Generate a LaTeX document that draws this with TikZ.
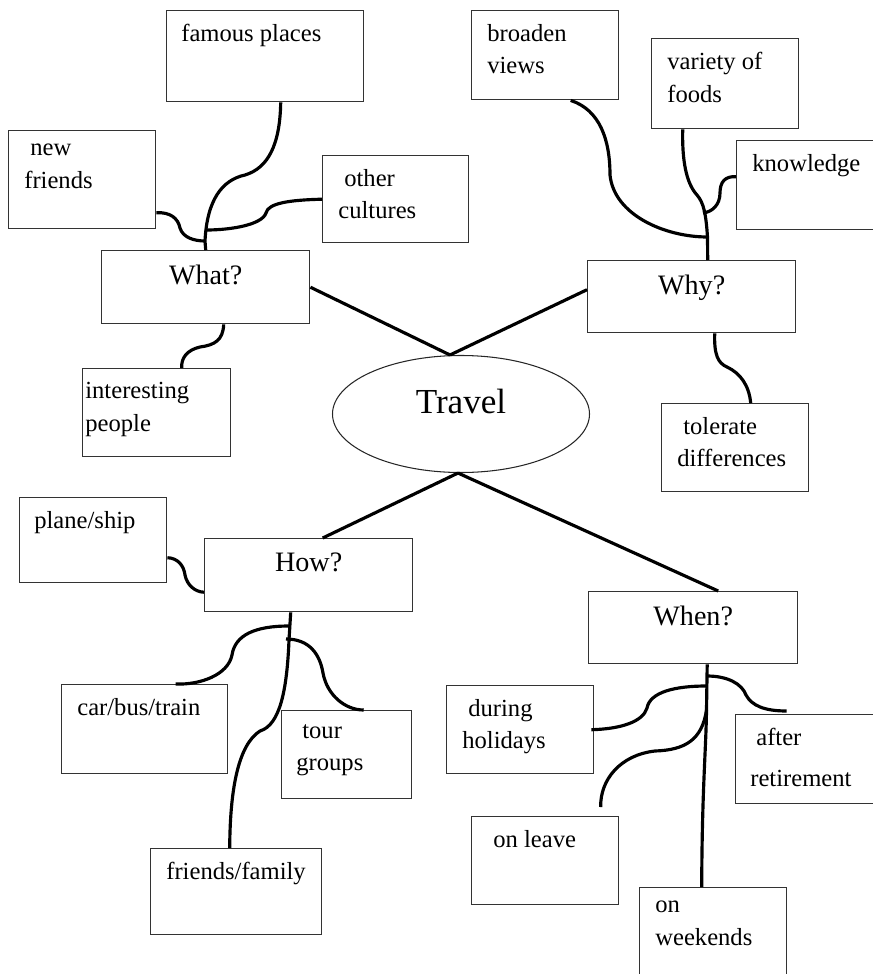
\documentclass[tikz,border=0pt]{standalone}
\usepackage{fontspec}
\setmainfont{Liberation Serif}
\usepackage{tikz}
\usetikzlibrary{shapes.geometric}

\begin{document}
\begin{tikzpicture}[
    leaf/.style={rectangle, draw=black!80, line width=0.8pt, anchor=north west, minimum width=2.94cm, minimum height=1.76cm, inner sep=0pt},
    leaftext/.style={anchor=north west, align=left, inner sep=0pt, xshift=0.32cm, yshift=-0.28cm, font=\fontsize{14}{18.5}\selectfont},
    ask/.style={rectangle, draw=black!80, line width=0.8pt, anchor=north west, minimum width=4.16cm, minimum height=1.46cm, inner sep=0pt},
    asktext/.style={anchor=north, inner sep=0pt, yshift=-0.3cm, font=\fontsize{16}{19}\selectfont},
    link/.style={line width=1.8pt, black},
    label distance=0pt
]
    \useasboundingbox (0,0) rectangle (17.46,-19.48);

    \node[ellipse, draw=black!85, line width=0.6pt, minimum width=5.14cm, minimum height=2.34cm, inner sep=0pt, text depth=14pt, font=\fontsize{20}{24}\selectfont] (travel) at (9.22,-8.28) {Travel};

    \node[ask, label={[asktext]north:What?}] (what) at (2.02,-5.00) {};
    \node[ask, minimum height=1.44cm, label={[asktext]north:Why?}] (why) at (11.74,-5.20) {};
    \node[ask, label={[asktext]north:How?}] (how) at (4.08,-10.76) {};
    \node[ask, minimum width=4.18cm, minimum height=1.44cm, label={[asktext]north:When?}] (when) at (11.76,-11.82) {};

    \node[leaf, minimum width=3.94cm, minimum height=1.82cm, label={[leaftext, xshift=-0.02cm]north west:famous places}] (famous) at (3.32,-0.20) {};
    \node[leaf, minimum height=1.96cm, label={[leaftext]north west:{\hspace*{0.12cm}new\\friends}}] (newfr) at (0.16,-2.60) {};
    \node[leaf, minimum width=2.92cm, minimum height=1.74cm, label={[leaftext]north west:{\hspace*{0.12cm}other\\cultures}}] (other) at (6.44,-3.10) {};
    \node[leaf, minimum width=2.96cm, label={[leaftext, xshift=-0.26cm]north west:{interesting\\people}}] (interest) at (1.64,-7.36) {};

    \node[leaf, minimum height=1.78cm, label={[leaftext]north west:{broaden\\views}}] (broaden) at (9.42,-0.20) {};
    \node[leaf, minimum height=1.80cm, label={[leaftext]north west:{variety of\\foods}}] (variety) at (13.02,-0.76) {};
    \node[leaf, minimum height=1.78cm, label={[leaftext]north west:knowledge}] (knowl) at (14.72,-2.80) {};
    \node[leaf, label={[leaftext]north west:{\hspace*{0.12cm}tolerate\\differences}}] (toler) at (13.22,-8.06) {};

    \node[leaf, minimum height=1.70cm, label={[leaftext, xshift=-0.02cm]north west:plane/ship}] (plane) at (0.38,-9.94) {};
    \node[leaf, minimum width=3.32cm, minimum height=1.78cm, label={[leaftext]north west:car/bus/train}] (car) at (1.22,-13.68) {};
    \node[leaf, minimum width=2.60cm, label={[leaftext, xshift=-0.02cm]north west:{\hspace*{0.12cm}tour\\groups}}] (tour) at (5.62,-14.20) {};
    \node[leaf, minimum width=3.42cm, minimum height=1.72cm, label={[leaftext]north west:friends/family}] (frfam) at (3.00,-16.96) {};

    \node[leaf, label={[leaftext]north west:{\hspace*{0.12cm}during\\holidays}}] (during) at (8.92,-13.70) {};
    \node[leaf, minimum height=1.78cm, label={[leaftext, xshift=-0.02cm]north west:{\hspace*{0.12cm}after\\[0.17cm]retirement}}] (after) at (14.70,-14.28) {};
    \node[leaf, label={[leaftext]north west:{\hspace*{0.12cm}on leave}}] (leave) at (9.42,-16.32) {};
    \node[leaf, label={[leaftext]north west:{on\\weekends}}] (weekend) at (12.78,-17.74) {};

    \coordinate (wj1) at (4.10,-4.82);
    \coordinate (wj2) at (4.13,-4.60);
    \coordinate (yj1) at (14.15,-4.74);
    \coordinate (yj2) at (14.06,-4.26);
    \coordinate (hj1) at (5.78,-12.52);
    \coordinate (hj2) at (5.72,-12.78);
    \coordinate (nj1) at (14.14,-13.52);
    \coordinate (nj2) at (14.13,-13.72);
    \coordinate (nj3) at (14.13,-14.20);

    \draw[link] ([xshift=-0.22cm]travel.north) -- (what.east);
    \draw[link] ([xshift=-0.22cm]travel.north) -- ([yshift=0.14cm]why.west);
    \draw[link] ([xshift=-0.06cm]travel.south) -- ([xshift=0.28cm]how.north);
    \draw[link] ([xshift=-0.06cm]travel.south) -- ([xshift=0.5cm]when.north);

    \draw[link] (what.north) -- (wj1) .. controls (4.14,-4.00) and (4.44,-3.60) .. (4.90,-3.50) .. controls (5.36,-3.36) and (5.60,-2.90) .. ([xshift=0.31cm]famous.south);
    \draw[link] ([yshift=-0.66cm]newfr.east) .. controls (3.40,-4.24) and (3.56,-4.36) .. (3.60,-4.56) .. controls (3.66,-4.76) and (3.90,-4.82) .. (wj1);
    \draw[link] (other.west) .. controls (5.80,-4.00) and (5.36,-4.06) .. (5.32,-4.26) .. controls (5.24,-4.50) and (4.60,-4.60) .. (wj2);
    \draw[link] ([xshift=0.36cm]what.south) .. controls (4.46,-6.80) and (4.30,-6.90) .. (4.00,-6.94) .. controls (3.74,-7.00) and (3.62,-7.16) .. ([xshift=0.50cm]interest.north);

    \draw[link] ([xshift=0.32cm]why.north) -- (yj1) .. controls (14.12,-4.30) and (14.08,-4.06) .. (13.94,-3.90) .. controls (13.72,-3.66) and (13.64,-3.20) .. ([xshift=-0.85cm]variety.south);
    \draw[link] ([xshift=0.51cm]broaden.south) .. controls (12.00,-2.20) and (12.20,-2.80) .. (12.20,-3.50) .. controls (12.28,-4.30) and (13.30,-4.74) .. (yj1);
    \draw[link] ([yshift=0.17cm]knowl.west) .. controls (14.50,-3.52) and (14.40,-3.64) .. (14.40,-3.86) .. controls (14.40,-4.10) and (14.24,-4.24) .. (yj2);
    \draw[link] ([xshift=0.46cm]why.south) .. controls (14.28,-7.10) and (14.36,-7.26) .. (14.54,-7.34) .. controls (14.80,-7.46) and (14.98,-7.70) .. ([xshift=0.31cm]toler.north);

    \draw[link] ([yshift=-0.35cm]plane.east) .. controls (3.56,-11.16) and (3.68,-11.32) .. (3.70,-11.50) .. controls (3.74,-11.70) and (3.90,-11.84) .. ([yshift=-0.34cm]how.west);
    \draw[link] ([xshift=-0.36cm]how.south) -- (5.78,-12.80) .. controls (5.74,-13.80) and (5.60,-14.50) .. (5.20,-14.62) .. controls (4.76,-14.90) and (4.60,-15.80) .. ([xshift=-0.13cm]frfam.north);
    \draw[link] (hj1) .. controls (5.10,-12.52) and (4.70,-12.70) .. (4.64,-13.10) .. controls (4.56,-13.50) and (4.00,-13.70) .. ([xshift=0.62cm]car.north);
    \draw[link] (hj2) .. controls (6.20,-12.78) and (6.40,-13.10) .. (6.46,-13.46) .. controls (6.54,-13.90) and (6.90,-14.20) .. ([xshift=0.34cm]tour.north);

    \draw[link] ([xshift=0.28cm]when.south) -- (nj3) .. controls (14.12,-15.00) and (14.04,-15.80) .. ([xshift=-0.23cm]weekend.north);
    \draw[link] (nj1) .. controls (14.56,-13.52) and (14.84,-13.68) .. (14.92,-13.90) .. controls (15.04,-14.12) and (15.30,-14.22) .. ([xshift=-0.45cm, yshift=0.06cm]after.north);
    \draw[link] (nj2) .. controls (13.50,-13.72) and (13.00,-13.84) .. (12.94,-14.16) .. controls (12.86,-14.44) and (12.40,-14.58) .. ([xshift=-0.06cm]during.east);
    \draw[link] (nj3) .. controls (14.04,-14.80) and (13.70,-15.00) .. (13.10,-15.02) .. controls (12.40,-15.10) and (12.00,-15.60) .. ([xshift=1.11cm, yshift=0.18cm]leave.north);
\end{tikzpicture}
\end{document}
